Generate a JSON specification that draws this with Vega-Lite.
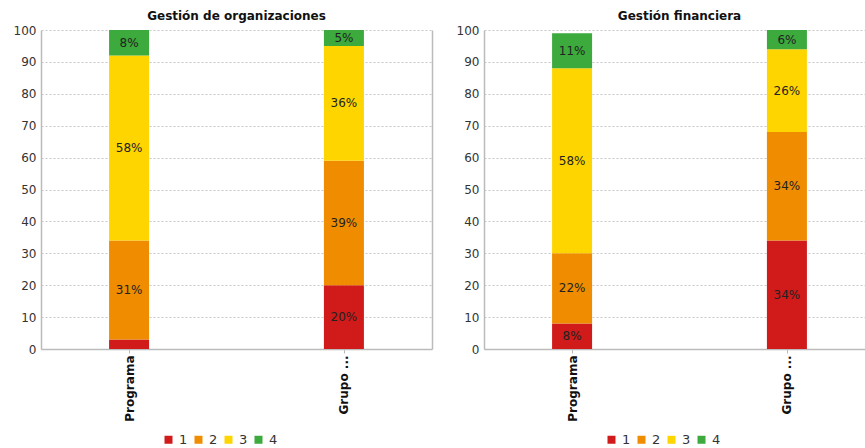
{
  "$schema": "https://vega.github.io/schema/vega-lite/v6.json",
  "padding": {"left": 13, "top": 10, "right": 0, "bottom": 0},
  "background": "white",
  "data": {"values": [
    {"panel": "Gestión de organizaciones", "grupo": "Programa", "cat": "1", "v": 3, "pct": "3%"},
    {"panel": "Gestión de organizaciones", "grupo": "Programa", "cat": "2", "v": 31, "pct": "31%"},
    {"panel": "Gestión de organizaciones", "grupo": "Programa", "cat": "3", "v": 58, "pct": "58%"},
    {"panel": "Gestión de organizaciones", "grupo": "Programa", "cat": "4", "v": 8, "pct": "8%"},
    {"panel": "Gestión de organizaciones", "grupo": "Grupo ...", "cat": "1", "v": 20, "pct": "20%"},
    {"panel": "Gestión de organizaciones", "grupo": "Grupo ...", "cat": "2", "v": 39, "pct": "39%"},
    {"panel": "Gestión de organizaciones", "grupo": "Grupo ...", "cat": "3", "v": 36, "pct": "36%"},
    {"panel": "Gestión de organizaciones", "grupo": "Grupo ...", "cat": "4", "v": 5, "pct": "5%"},
    {"panel": "Gestión financiera", "grupo": "Programa", "cat": "1", "v": 8, "pct": "8%"},
    {"panel": "Gestión financiera", "grupo": "Programa", "cat": "2", "v": 22, "pct": "22%"},
    {"panel": "Gestión financiera", "grupo": "Programa", "cat": "3", "v": 58, "pct": "58%"},
    {"panel": "Gestión financiera", "grupo": "Programa", "cat": "4", "v": 11, "pct": "11%"},
    {"panel": "Gestión financiera", "grupo": "Grupo ...", "cat": "1", "v": 34, "pct": "34%"},
    {"panel": "Gestión financiera", "grupo": "Grupo ...", "cat": "2", "v": 34, "pct": "34%"},
    {"panel": "Gestión financiera", "grupo": "Grupo ...", "cat": "3", "v": 26, "pct": "26%"},
    {"panel": "Gestión financiera", "grupo": "Grupo ...", "cat": "4", "v": 6, "pct": "6%"}
  ]},
  "config": {
    "font": "DejaVu Sans",
    "view": {"stroke": null},
    "axis": {"labelFont": "DejaVu Sans", "labelFontSize": 12, "labelColor": "#333", "domainColor": "#bbbbbb", "domainWidth": 1.5, "tickColor": "#bbbbbb", "gridColor": "#c8c8c8", "gridDash": [2, 2]},
    "title": {"font": "DejaVu Sans", "fontSize": 12, "fontWeight": "bold", "color": "#111", "offset": 1},
    "legend": {"labelFont": "DejaVu Sans", "labelFontSize": 13, "labelColor": "#333"}
  },
  "spacing": 24,
  "resolve": {"legend": {"color": "independent"}},
  "hconcat": [
    {
      "title": "Gestión de organizaciones",
      "width": 391, "height": 319,
      "transform": [{"filter": "datum.panel == 'Gestión de organizaciones'"}],
      "encoding": {
        "x": {"field": "grupo", "type": "nominal", "sort": ["Programa", "Grupo ..."], "scale": {"type": "point", "padding": 0.41},
              "axis": {"title": null, "labelAngle": -90, "labelFontWeight": "bold", "labelColor": "#111", "labelFontSize": 12, "tickSize": 4, "grid": false, "labelPadding": 2}}
      },
      "layer": [
        {"mark": {"type": "bar", "width": 40},
         "encoding": {
           "y": {"field": "v", "type": "quantitative", "stack": "zero", "scale": {"domain": [0, 100]},
                 "axis": {"title": null, "values": [0,10,20,30,40,50,60,70,80,90,100], "ticks": false, "labelPadding": 5}},
           "color": {"field": "cat", "type": "nominal", "scale": {"domain": ["1","2","3","4"], "range": ["#d11a1a", "#f08c00", "#ffd500", "#3caa3c"]},
                     "legend": {"orient": "none", "legendX": 121, "legendY": 403, "direction": "horizontal", "title": null, "symbolType": "square", "symbolSize": 64, "columnPadding": 4, "labelOffset": 4}},
           "order": {"field": "cat"}
         }},
        {"transform": [
           {"stack": "v", "groupby": ["grupo"], "sort": [{"field": "cat", "order": "ascending"}], "as": ["s0", "s1"]},
           {"filter": "datum.v >= 5"},
           {"fold": ["s0", "s1"], "as": ["edge", "pos"]},
           {"aggregate": [{"op": "mean", "field": "pos", "as": "mid"}], "groupby": ["grupo", "cat", "pct"]}],
         "mark": {"type": "text", "fontSize": 12, "color": "#222"},
         "encoding": {
           "y": {"field": "mid", "type": "quantitative", "scale": {"domain": [0, 100]},
                 "axis": {"title": null, "orient": "right", "labels": false, "ticks": false, "grid": false}},
           "text": {"field": "pct"}
         }}
      ],
      "resolve": {"axis": {"y": "independent"}}
    },
    {
      "title": "Gestión financiera",
      "width": 391, "height": 319,
      "transform": [{"filter": "datum.panel == 'Gestión financiera'"}],
      "encoding": {
        "x": {"field": "grupo", "type": "nominal", "sort": ["Programa", "Grupo ..."], "scale": {"type": "point", "padding": 0.41},
              "axis": {"title": null, "labelAngle": -90, "labelFontWeight": "bold", "labelColor": "#111", "labelFontSize": 12, "tickSize": 4, "grid": false, "labelPadding": 2}}
      },
      "layer": [
        {"mark": {"type": "bar", "width": 40},
         "encoding": {
           "y": {"field": "v", "type": "quantitative", "stack": "zero", "scale": {"domain": [0, 100]},
                 "axis": {"title": null, "values": [0,10,20,30,40,50,60,70,80,90,100], "ticks": false, "labelPadding": 5}},
           "color": {"field": "cat", "type": "nominal", "scale": {"domain": ["1","2","3","4"], "range": ["#d11a1a", "#f08c00", "#ffd500", "#3caa3c"]},
                     "legend": {"orient": "none", "legendX": 121, "legendY": 403, "direction": "horizontal", "title": null, "symbolType": "square", "symbolSize": 64, "columnPadding": 4, "labelOffset": 4}},
           "order": {"field": "cat"}
         }},
        {"transform": [
           {"stack": "v", "groupby": ["grupo"], "sort": [{"field": "cat", "order": "ascending"}], "as": ["s0", "s1"]},
           {"filter": "datum.v >= 5"},
           {"fold": ["s0", "s1"], "as": ["edge", "pos"]},
           {"aggregate": [{"op": "mean", "field": "pos", "as": "mid"}], "groupby": ["grupo", "cat", "pct"]}],
         "mark": {"type": "text", "fontSize": 12, "color": "#222"},
         "encoding": {
           "y": {"field": "mid", "type": "quantitative", "scale": {"domain": [0, 100]},
                 "axis": {"title": null, "orient": "right", "labels": false, "ticks": false, "grid": false}},
           "text": {"field": "pct"}
         }}
      ],
      "resolve": {"axis": {"y": "independent"}}
    }
  ]
}
